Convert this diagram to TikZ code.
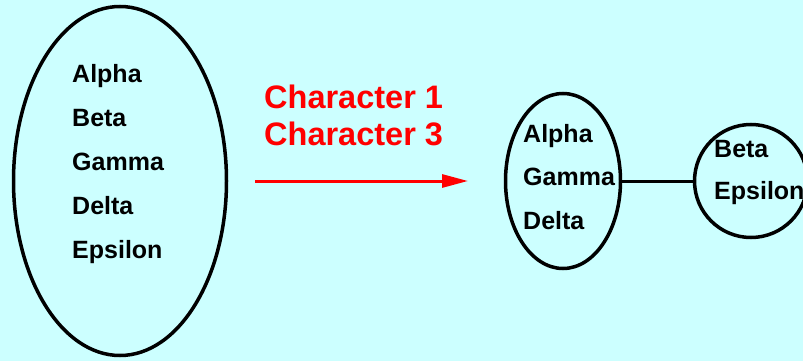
\documentclass[tikz,border=0pt]{standalone}
\usepackage{fontspec}
\setmainfont{Liberation Sans}
\usetikzlibrary{shapes.geometric,arrows.meta}
\definecolor{paleCyan}{RGB}{204,255,255}

\tikzset{
  set/.style={draw,ellipse,line width=3.5pt,inner sep=0pt},
  member/.style={anchor=base west,inner sep=0pt,font=\fontsize{25}{25}\selectfont\bfseries},
  change/.style={anchor=base west,inner sep=0pt,text=red,font=\fontsize{32.5}{32.5}\selectfont\bfseries},
}

\begin{document}
\begin{tikzpicture}[x=1pt,y=-1pt]
  \fill[paleCyan] (0,0) rectangle (803,361);
  \useasboundingbox (0,0) rectangle (803,361);

  % the whole set
  \node[set,minimum width=213pt,minimum height=349pt] (all) at (120,181) {};
  \foreach \name [count=\i] in {Alpha,Beta,Gamma,Delta,Epsilon}
    \node[member] (all-\i) at (72,{38+44*\i}) {\name};

  % which characters split it
  \node[change] (char1) at (264,108) {Character 1};
  \node[change] (char3) at (264,145) {Character 3};
  \coordinate (split-from) at (255,181);
  \coordinate (split-to) at (468,181);
  \draw[red,line width=3pt,-{Triangle[length=26pt,width=13pt]}] (split-from) -- (split-to);

  % the two parts
  \node[set,minimum width=115pt,minimum height=175pt] (left) at (563,181) {};
  \foreach \name [count=\i] in {Alpha,Gamma,Delta}
    \node[member] (left-\i) at (523,{98.5+43.5*\i}) {\name};
  \node[set,minimum width=113pt,minimum height=113pt] (right) at (751,181) {};
  \foreach \name [count=\i] in {Beta,Epsilon}
    \node[member] (right-\i) at (714,{115+42*\i}) {\name};
  \draw[line width=3pt] (left) -- (right);
\end{tikzpicture}
\end{document}
